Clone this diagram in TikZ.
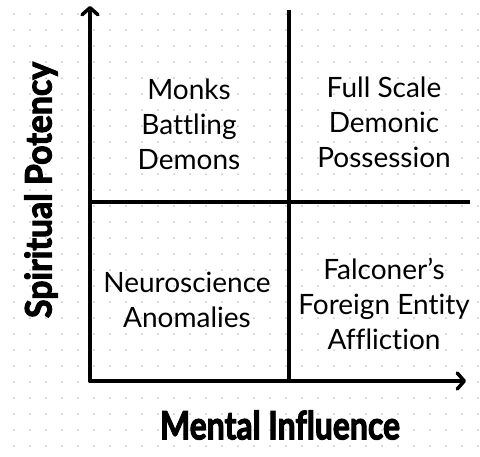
\documentclass[tikz,border=0pt]{standalone}
\usepackage{fontspec}
\usepackage{graphicx}
\setmainfont{Lato}[Ligatures={NoCommon,NoRare,NoContextual}]
\newfontfamily\heavyfont{Lato}[Ligatures={NoCommon,NoRare,NoContextual},UprightFeatures={FakeBold=3},BoldFeatures={FakeBold=3}]
\usetikzlibrary{arrows.meta}
\definecolor{dotc}{HTML}{C8C8C8}
\begin{document}
\begin{tikzpicture}[x=1pt,y=-1pt,
  axisline/.style={line width=4pt,line cap=round,-{Straight Barb[length=7pt,width=16pt,line width=3.5pt,round]}},
  divider/.style={line width=4pt},
  quad/.style={align=center,font=\fontsize{28}{35}\selectfont,inner sep=0pt},
  axislabel/.style={inner sep=0pt}]
\useasboundingbox (0,0) rectangle (480,456);
\fill[white] (0,0) rectangle (480,456);
\foreach \i in {0,...,29}{\foreach \j in {0,...,27}{\fill[dotc] (14+16*\i,14+16*\j) circle (1pt);}}
\coordinate (O) at (90,381);
\coordinate (ytip) at (90,6);
\coordinate (xtip) at (466,381);
\coordinate (vtop) at (289,10);
\coordinate (vbot) at (289,381);
\coordinate (hl) at (90,202);
\coordinate (hr) at (470,202);
\draw[divider] (vtop) -- (vbot);
\draw[divider] (hl) -- (hr);
\draw[axisline] (O) -- (ytip);
\draw[axisline] (O) -- (xtip);
\node[quad] (q1) at (189,124) {Monks\\Battling\\Demons};
\node[quad] (q2) at (384,122) {Full Scale\\Demonic\\Possession};
\node[quad] (q3) at (187,300) {Neuroscience\\Anomalies};
\node[quad] (q4) at (384,304) {Falconer’s\\Foreign Entity\\Affliction};
\node[axislabel] (xl) at (280,425) {\resizebox{240pt}{29pt}{\heavyfont\bfseries Mental Influence}};
\node[axislabel,rotate=90] (yl) at (41,190) {\resizebox{256pt}{27pt}{\heavyfont\bfseries Spiritual Potency}};
\end{tikzpicture}
\end{document}
